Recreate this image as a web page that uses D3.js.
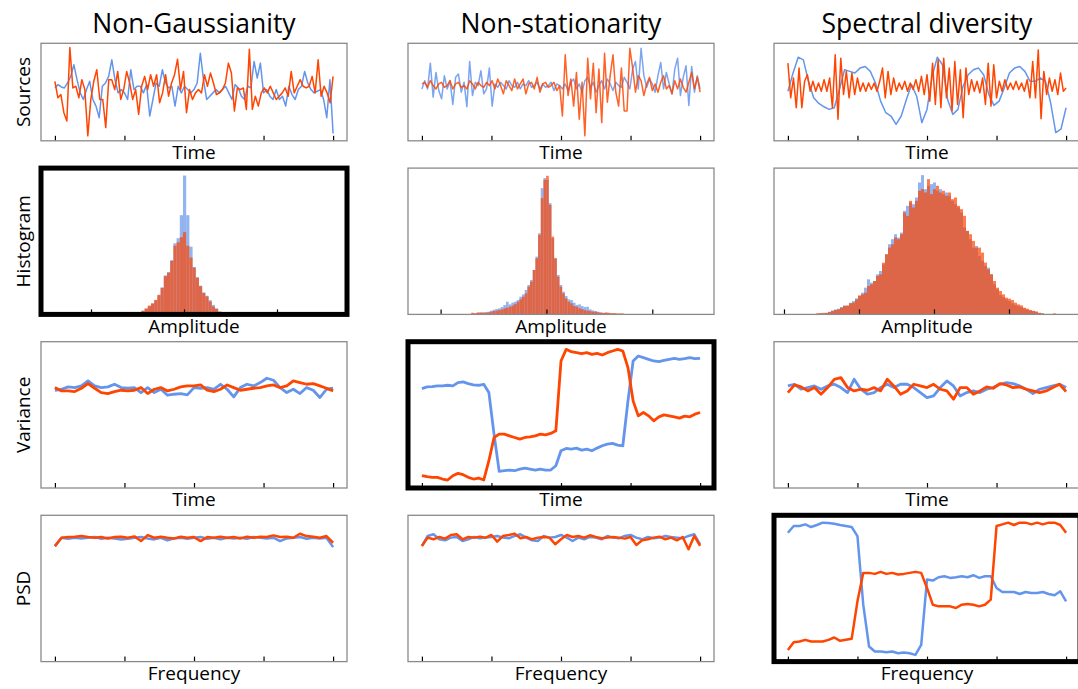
<!DOCTYPE html>
<html>
<head>
<meta charset="utf-8">
<script src="https://cdn.jsdelivr.net/npm/d3@7"></script>
<style>
  body { margin: 0; background: #fff; }
  svg text { font-family: "Open Sans", sans-serif; fill: #000; }
</style>
</head>
<body>
<svg id="fig" width="1078" height="689"></svg>
<script>
// ---- labels ----
const colTitles = ["Non-Gaussianity", "Non-stationarity", "Spectral diversity"];
const rowLabels = ["Sources", "Histogram", "Variance", "PSD"];
const xLabels = ["Time", "Amplitude", "Time", "Frequency"];
// panels drawn with a heavy frame: [row, col]
const highlighted = [[1, 0], [2, 1], [3, 2]];

const timeTicks = [0, 250, 500, 750, 1000];
const histTicks = [[-1, 0, 1], [-1, 0, 1], [-2, -1, 0, 1]];

// ---- row 1: sources (amplitude) ----
const srcNGBlue = [0, 1, 0.3, 0, 1.5, 3.5, 7, 2.5, -1.5, -3.5,
  -0.5, 2, -3.5, -5.5, -9, 0.5, 1.5, 3.5, 8.5, 2.5,
  -1.5, -0.5, -1.5, -3.5, 5.5, -0.5, 0.5, 0.5, -1.5, 1,
  -8.5, -3.5, 1.5, 0.5, 5.5, 1.5, 0, 0.5, -5.5, 0.5,
  -1.5, 0.5, -0.5, -1.5, -0.5, 1.5, 10.5, 2.5, -3.5, -2.5,
  -1.5, -0.5, -1.5, -0.5, 0.5, -1.5, -3.5, 1, 0, -2.5,
  -3.5, 0.5, 0, 8, 3, 7.5, -1.5, -0.5, -2.5, -3.5,
  -0.5, -3.5, -2.5, -5.5, 0.5, -2, -3.5, -0.5, 0.5, 5,
  1.5, -0.5, -1.5, -1, -0.5, -3.5, -9, 2.5, -13.8];
const srcNGRed = [2, -3, -2, -7.5, -10, 12.2, 0, 0.5, -3, 2.5,
  -0.5, -14.5, -3.5, 2, 5.5, -3.5, -3.5, -12, 2.5, 2.5,
  -0.5, 5, -3.5, -0.5, 5, 1.5, -3.5, -0.5, -8, 0.5,
  3.5, -0.5, 4, 0.5, 4, -4.5, -1.5, 4, -2.5, 1.5,
  4, 8.7, -0.5, 5, -7.5, -0.5, -3.5, -1.5, -0.5, -1.5,
  4, 0.5, 4.5, 1.5, -2, -1.5, -0.5, 1.5, 7.5, 4.5,
  -7, 0, -0.5, 0, -6.5, 11.7, -6.5, -2.5, -5.5, -1.5,
  0, -1.5, 0.5, -1.5, -3.5, -2.5, -1.5, 0, -2.5, 5,
  -1.5, 0.5, 2.5, 0.5, 0, 0.5, 3.5, -1.5, 8.5, -2.5,
  0.5, -1.5, -4.5, 3.5];
const srcNSBlue = [-1, 1.5, -1, 6.8, -3.5, 4, -1.5, -4, 3, -1, 1.5, -5.7, 2.5, 3.5, -2, 1, -6.4, 7.3, -3, 1, 0, 4.5, -2.5, -1, 5.3,
  -6.2, 0.5, -0.5, 1, 0, -1, 1.5, 0, -0.5, 1, -1, 0.5, 0, 1.5, -0.5, 0, 1, -1, 0.5, -0.5, 0, 1, -1.5, 0.5, 0,
  -1, 0.5, -1.5, 1, 2, -1, 0.5, -2, 1.5, 2.5, -0.5, 1, -2, 0, 1.5, -1, 2, 0.5, -1.5, 1, 0, -0.5, 2.5, 1, -1,
  5, 7.3, -1, 11.3, 3, -0.5, 2, 0.5, -2, 3, 7, -1, 4, 0.5, -2.5, 5, 8.3, -3, 2.5, 6, -6, 5.8, -2, 3, -1];
const srcNSRed = [0.5, 1, -0.5, 1.5, 0, -1, 0.5, 1, -0.5, 0, 1.5, -1, 0.5, 1, -0.5, 0, -1, 1.5, 0.5, -1, 1, 0, -0.5, 1, 0,
  1.5, -1, 2, 0, -2.5, 1.5, 0, -1.5, 2, -1, 0.5, 2, -2.5, 0.5, 1, -1, 2.5, -2, 0.5, 1, -0.5, 0, 1, -1.5, 0,
  -9.2, 9.3, -3, 2, -6.2, 4, -10.2, 1, -15.2, 8.3, -4, 6.8, -8.2, 5, -11.2, 9.8, -5, 3, 9.3, -2, -6.2, 5.3, -7.7, -7.7, 11.3,
  5.3, -2, 3, 1.5, -3, 0.5, 2.5, -1.5, 0.5, -2, 1, 3, -1, 0, -2.5, 1.5, -1, 2, -0.5, -2, 1, 4, -1, 2.5, -2];
const srcSDBlue = [-1, 4.5, 9.3, 8.5, 2, -3, -4.7, -5.7, -6.5, -6,
  -0.5, 5.5, 5, 4.5, 6, 6.5, 5, 1.5, -4, -7.5,
  -8.5, -11, -8.5, -3.5, 1, -2.5, -10.5, -6.5, 3.5, 9.3,
  7, -3.5, -8, -6.5, 0.5, 4, 5.5, 6, 4, -2,
  -5.3, -4, 0, 4.5, 6, 6.5, 5, 2, 2, 3,
  2, -4.5, -13.5, -12.5, -6];
const srcSDRed = [7.5, -3, 3, -6, 6, -6, 2,
  4, -1, 2, -1, 1.5, -1, 2.5, -1, 3,
  -6, 10, -9.5, 9, -2,
  5, -3, 4.5, -2, 3, -1,
  1.5, -1, 1.5, -0.5, 1.5, -1, 2,
  6, -3, 5, -2, 3,
  -1, 1.5, -0.5, 2, -1, 1.5, -0.5, 2.5, -1, 3.5, -2, 4,
  -4, 7.5, -5, 8.5, -6, 9, -3, 6, -7, 8, -5, 5.5, -9, 6,
  -2, 2.5, -1, 2, -1.5, 3,
  -5, 7.5, -5.5, 7, -3,
  2, -1, 2.5, -0.5, 1.5, -0.5, 2, -0.5, 1.5, -1, 2.5, -3,
  8, -3, 11.5, -9.3, 5,
  -2, 3, -1, 2.5, -2, 4.5, -1, 0];
const srcDomains = [[-16, 13.5], [-16.7, 12.8], [-16, 13.5]];

// ---- row 2: histograms (bin start, bin width, counts) ----
const histStart = [-0.527, -0.711, -1.573];
const histWidth = [0.0344, 0.02528, 0.04];
const histNGBlue = [2, 5, 10, 16, 24, 31, 41, 56, 80, 115, 125, 160, 210, 225, 293, 410, 293, 200, 140, 110, 85, 65, 55, 42, 28, 18, 8, 2, 0, 0];
const histNGRed = [3, 6, 11, 18, 26, 33, 43, 58, 78, 113, 123, 158, 203, 213, 228, 243, 203, 168, 138, 108, 83, 63, 53, 38, 23, 16, 8, 3, 2, 3];
const histNSBlue = [2, 3, 4, 5, 6, 7, 8, 11, 14, 16, 18, 22, 28, 38, 30, 35, 38, 43, 53, 60, 73, 88, 103, 133, 173, 243, 378, 408, 403, 333,
  228, 168, 118, 88, 68, 55, 45, 43, 35, 28, 30, 25, 22, 23, 15, 12, 10, 8, 6, 5, 4, 3, 2, 2, 1, 1, 0];
const histNSRed = [5, 3, 6, 6, 5, 5, 6, 8, 10, 11, 13, 15, 18, 20, 23, 26, 31, 38, 45, 53, 63, 83, 98, 133, 168, 238, 348, 403, 415, 328,
  233, 168, 113, 83, 63, 48, 38, 33, 25, 23, 18, 16, 13, 11, 10, 8, 8, 6, 5, 4, 6, 5, 4, 4, 3, 3, 3];
const histSDBlue = [2, 3, 5, 4, 8, 12, 15, 17, 22, 27, 25, 35, 40, 48, 55, 65, 80, 105, 95, 100,
  120, 130, 150, 180, 210, 225, 240, 230, 245, 310, 325, 335, 330, 350, 395, 417, 375, 385, 390, 395,
  370, 375, 360, 365, 355, 340, 330, 320, 305, 260, 250, 225, 200, 205, 175, 160, 145, 140, 120, 90,
  75, 58, 52, 45, 40, 33, 28, 25, 22, 18, 14, 12, 11, 7, 4, 3, 1, 0, 0, 0];
const histSDRed = [3, 4, 3, 5, 7, 10, 13, 15, 20, 25, 27, 33, 35, 45, 57, 60, 65, 85, 90, 100,
  115, 120, 155, 180, 200, 210, 230, 225, 240, 305, 295, 340, 320, 340, 370, 375, 365, 405, 360, 375,
  385, 365, 370, 355, 365, 345, 350, 325, 315, 295, 250, 240, 220, 200, 200, 185, 155, 135, 120, 100,
  80, 70, 60, 50, 47, 43, 35, 30, 27, 20, 17, 13, 10, 9, 5, 3, 1, 0, 0, 3];
const histXDomains = [[-1.538, 1.753], [-1.308, 1.583], [-2.133, 1.947]];
const histYMax = [432, 438, 438];

// ---- row 3: running variance ----
const varNGBlue = [294, 297, 304, 302, 307, 322, 307, 302, 304, 312, 302, 300, 302, 287, 302, 287, 297, 279, 282, 284,
  280, 302, 300, 302, 297, 312, 297, 274, 302, 312, 307, 317, 330, 324, 302, 287, 297, 284, 302, 294, 272, 297, 300];
const varNGRed = [302, 292, 292, 290, 300, 314, 300, 287, 284, 290, 294, 292, 294, 302, 284, 297, 302, 292, 297, 304,
  307, 307, 310, 294, 290, 297, 310, 302, 294, 297, 300, 302, 307, 310, 302, 307, 322, 317, 312, 314, 307, 300, 292];
const varNSBlue = [299, 304, 305, 307, 307, 309, 307, 317, 319, 314, 310, 309, 312, 287, 162, 50, 52, 54, 52, 57,
  60, 57, 54, 57, 54, 54, 67, 112, 119, 117, 120, 114, 117, 112, 120, 127, 132, 134, 129, 127,
  262, 382, 397, 392, 387, 382, 380, 384, 387, 390, 387, 389, 392, 389, 390];
const varNSRed = [37, 34, 32, 32, 27, 24, 37, 44, 40, 32, 27, 30, 24, 82, 152, 162, 162, 157, 152, 147,
  152, 154, 157, 162, 160, 164, 172, 382, 417, 410, 407, 404, 407, 402, 405, 400, 407, 412, 417, 412,
  362, 262, 217, 227, 217, 202, 214, 220, 217, 214, 210, 216, 214, 222, 227];
const varSDBlue = [307, 312, 297, 302, 307, 297, 307, 312, 302, 287, 327, 297, 282, 287, 302, 312, 302, 312, 312, 302,
  287, 272, 277, 302, 322, 307, 277, 287, 292, 287, 297, 302, 312, 317, 314, 307, 297, 284, 297, 302, 307, 312, 302];
const varSDRed = [287, 310, 304, 292, 302, 282, 302, 327, 332, 302, 292, 297, 294, 302, 292, 327, 307, 282, 292, 312,
  307, 302, 312, 297, 292, 267, 302, 302, 282, 292, 304, 300, 314, 310, 302, 304, 297, 292, 287, 292, 302, 312, 290];
const varYMax = 440;

// ---- row 4: power spectral density ----
const psdNGBlue = [345, 370, 367, 370, 368, 370, 372, 367, 370, 368, 365, 367, 370, 372, 368, 365, 370, 362, 368, 370,
  367, 370, 372, 367, 370, 365, 370, 368, 370, 367, 372, 370, 368, 370, 360, 368, 370, 372, 367, 370, 368, 370, 342];
const psdNGRed = [345, 370, 372, 373, 375, 372, 370, 372, 368, 372, 373, 370, 374, 360, 378, 370, 373, 370, 368, 373,
  370, 372, 360, 372, 370, 373, 370, 372, 368, 373, 370, 373, 372, 377, 372, 373, 370, 382, 375, 373, 370, 375, 355];
const psdNSBlue = [347, 377, 382, 367, 364, 372, 374, 362, 367, 374, 370, 372, 374, 377, 372, 370, 377, 382, 372, 364,
  362, 377, 372, 374, 380, 372, 362, 372, 367, 374, 372, 367, 377, 372, 370, 377, 380, 372, 367, 374,
  370, 372, 377, 374, 372, 370, 377, 382, 352];
const psdNSRed = [347, 372, 367, 374, 369, 380, 382, 367, 374, 372, 375, 372, 380, 360, 377, 380, 384, 370, 374, 367,
  372, 374, 372, 352, 367, 380, 374, 377, 372, 379, 374, 370, 372, 374, 372, 369, 374, 350, 364, 367,
  372, 375, 367, 372, 364, 374, 337, 377, 347];
const psdSDBlue = [385, 405, 405, 410, 402, 408, 415, 414, 412, 408, 405, 402, 375, 170, 45, 30, 30, 28, 30, 25,
  27, 25, 20, 50, 245, 242, 252, 255, 250, 252, 255, 252, 258, 250, 255, 255, 220, 208, 208, 208,
  202, 208, 205, 205, 208, 202, 198, 210, 180];
const psdSDRed = [35, 58, 60, 65, 60, 60, 60, 65, 72, 62, 65, 68, 180, 265, 265, 262, 268, 262, 265, 260,
  262, 265, 268, 265, 220, 170, 165, 165, 165, 160, 170, 172, 170, 165, 170, 185, 405, 410, 415, 408,
  415, 415, 410, 415, 410, 415, 415, 408, 385];
const psdYMax = [437, 439, 437];

const blue = "#6495ed", red = "#ff4500";

// ---- layout ----
const svg = d3.select("#fig");
const colLeft = [41, 408, 774], colWidth = 306;
const rowTop = [43.3, 168.1, 341.7, 515.3], rowHeight = [97.5, 146.3, 146.3, 146.3];
const timeDomain = [-50, 1050];

function makePanel(row, col, xDomain, yDomain) {
  const w = colWidth, h = rowHeight[row];
  const g = svg.append("g").attr("transform", `translate(${colLeft[col]},${rowTop[row]})`);
  const id = `clip-${row}-${col}`;
  g.append("clipPath").attr("id", id).append("rect").attr("width", w).attr("height", h);
  const body = g.append("g").attr("clip-path", `url(#${id})`);
  const x = d3.scaleLinear().domain(xDomain).range([0, w]);
  const y = d3.scaleLinear().domain(yDomain).range([h, 0]);
  return {g, body, x, y, w, h};
}

function finishPanel(p, row, col, ticks) {
  // ticks point inward from the bottom edge, no labels
  p.g.append("g")
    .attr("transform", `translate(0,${p.h})`)
    .call(d3.axisBottom(p.x).tickValues(ticks).tickSize(-5).tickFormat(""))
    .call(a => a.select(".domain").remove())
    .call(a => a.selectAll("line").attr("stroke", "#000").attr("stroke-width", 1.2));
  const heavy = highlighted.some(d => d[0] === row && d[1] === col);
  p.g.append("rect")
    .attr("width", p.w).attr("height", p.h)
    .attr("fill", "none")
    .attr("stroke", heavy ? "#000" : "#8a8a8a")
    .attr("stroke-width", heavy ? 5 : 1.3);
  p.g.append("text")
    .attr("x", p.w / 2).attr("y", p.h + 18.5)
    .attr("text-anchor", "middle")
    .style("font-size", "19px")
    .text(xLabels[row]);
}

function drawSeries(p, values, color, width, opacity) {
  const n = values.length;
  const line = d3.line()
    .x((d, i) => p.x(i * 1000 / (n - 1)))
    .y(d => p.y(d));
  p.body.append("path")
    .datum(values)
    .attr("d", line)
    .attr("fill", "none")
    .attr("stroke", color)
    .attr("stroke-width", width)
    .attr("stroke-linejoin", "round")
    .attr("opacity", opacity);
}

function drawHist(p, counts, start, width, color) {
  p.body.selectAll(null)
    .data(counts)
    .enter()
    .append("rect")
    .attr("x", (d, i) => p.x(start + i * width))
    .attr("width", (d, i) => p.x(start + (i + 1) * width) - p.x(start + i * width))
    .attr("y", d => p.y(d))
    .attr("height", d => p.y(0) - p.y(d))
    .attr("fill", color)
    .attr("opacity", 0.7);
}

const sources = [[srcNGBlue, srcNGRed], [srcNSBlue, srcNSRed], [srcSDBlue, srcSDRed]];
const hists = [[histNGBlue, histNGRed], [histNSBlue, histNSRed], [histSDBlue, histSDRed]];
const variances = [[varNGBlue, varNGRed], [varNSBlue, varNSRed], [varSDBlue, varSDRed]];
const psds = [[psdNGBlue, psdNGRed], [psdNSBlue, psdNSRed], [psdSDBlue, psdSDRed]];

for (let c = 0; c < 3; c++) {
  // row 1: sources
  let p = makePanel(0, c, timeDomain, srcDomains[c]);
  const op = c === 1 ? 0.85 : 1;
  drawSeries(p, sources[c][0], blue, 1.5, op);
  drawSeries(p, sources[c][1], red, 1.5, op);
  finishPanel(p, 0, c, timeTicks);

  // row 2: histograms
  p = makePanel(1, c, histXDomains[c], [0, histYMax[c]]);
  drawHist(p, hists[c][0], histStart[c], histWidth[c], blue);
  drawHist(p, hists[c][1], histStart[c], histWidth[c], red);
  finishPanel(p, 1, c, histTicks[c]);

  // row 3: variance
  p = makePanel(2, c, timeDomain, [0, varYMax]);
  drawSeries(p, variances[c][0], blue, 2.8, 1);
  drawSeries(p, variances[c][1], red, 2.8, 1);
  finishPanel(p, 2, c, timeTicks);

  // row 4: PSD
  p = makePanel(3, c, timeDomain, [0, psdYMax[c]]);
  drawSeries(p, psds[c][0], blue, 2.5, 1);
  drawSeries(p, psds[c][1], red, 2.5, 1);
  finishPanel(p, 3, c, timeTicks);

  svg.append("text")
    .attr("x", colLeft[c] + colWidth / 2).attr("y", 33)
    .attr("text-anchor", "middle")
    .style("font-size", "26.5px")
    .text(colTitles[c]);
}

rowLabels.forEach((t, r) => {
  svg.append("text")
    .attr("transform", `translate(30,${rowTop[r] + rowHeight[r] / 2}) rotate(-90)`)
    .attr("text-anchor", "middle")
    .style("font-size", "19px")
    .text(t);
});
</script>
</body>
</html>
